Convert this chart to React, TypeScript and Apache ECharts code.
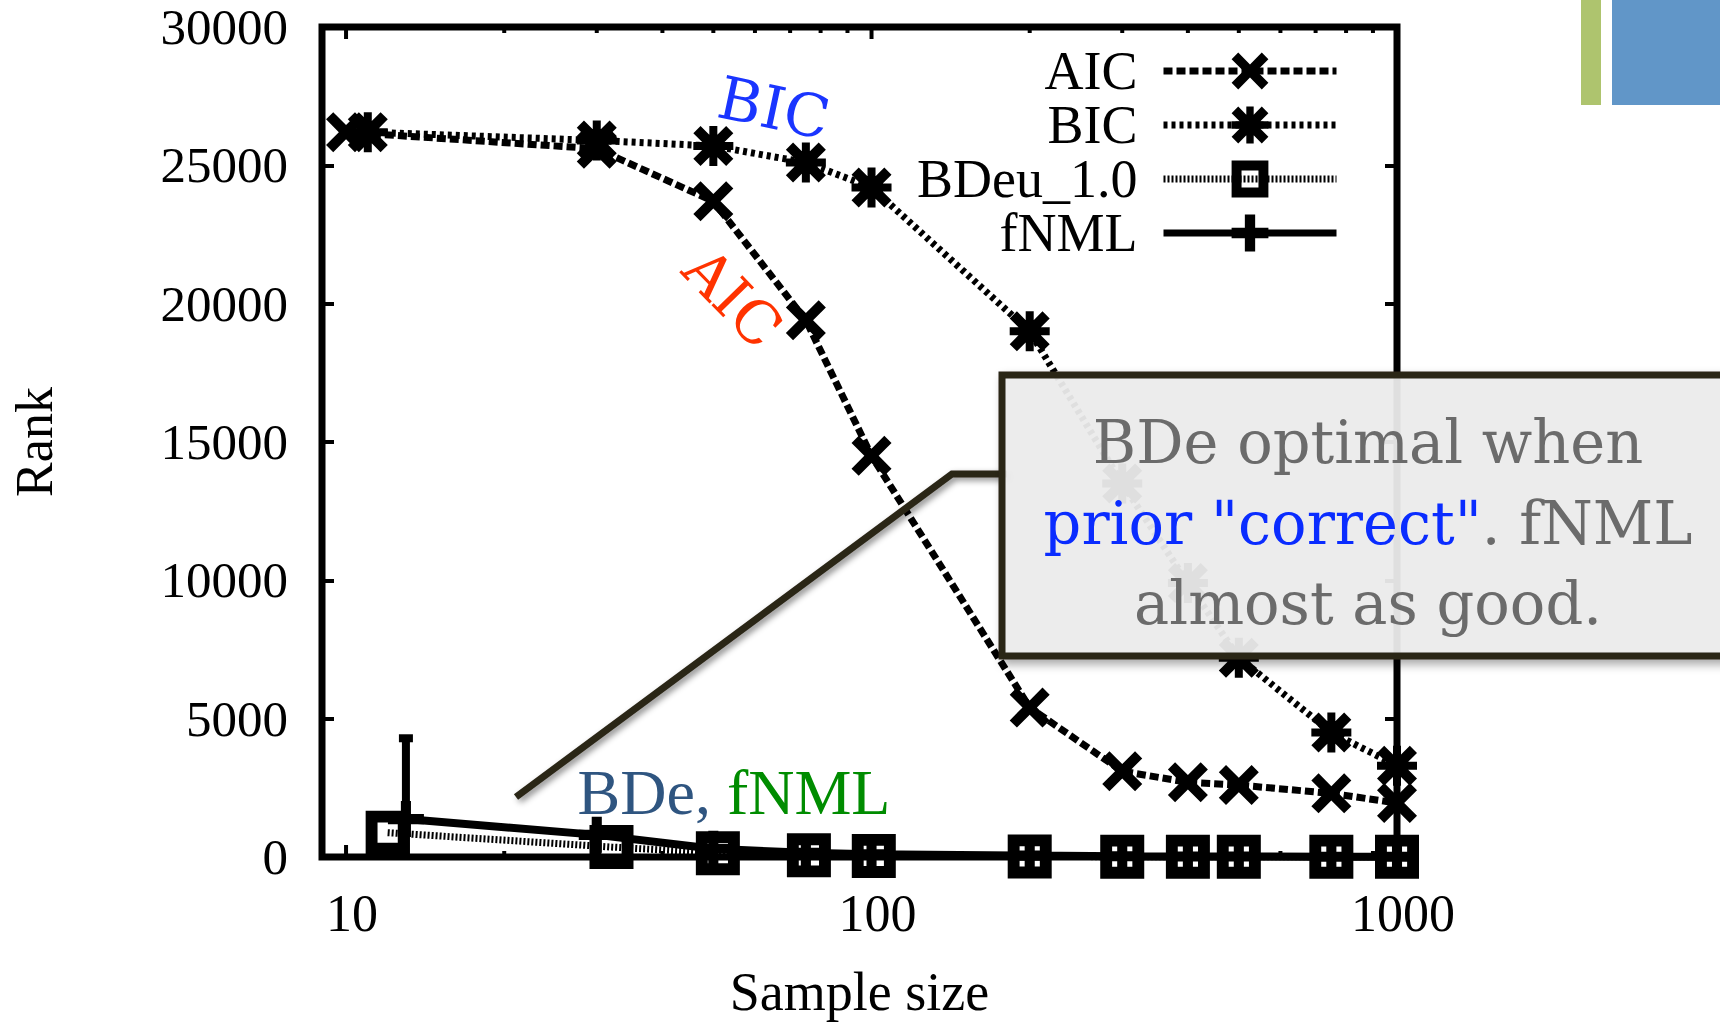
import React, { useEffect, useRef } from "react";
import * as echarts from "echarts";

// ---- data ----
const seriesNames = ["AIC", "BIC", "BDeu_1.0", "fNML"];
const aicSampleSizes = [10, 30, 50, 75, 100, 200, 300, 400, 500, 750, 1000];
const aicRank = [26200, 25600, 23700, 19400, 14500, 5400, 3100, 2700, 2600, 2300, 1950];
const bicSampleSizes = [11, 30, 50, 75, 100, 200, 300, 400, 500, 750, 1000];
const bicRank = [26200, 25900, 25700, 25100, 24200, 19000, 13500, 9900, 7200, 4500, 3300];
const bdeuSampleSizes = [12, 32, 51, 76, 101, 200, 300, 400, 500, 750, 1000];
const bdeuRank = [880, 360, 140, 60, 40, 20, 10, 10, 10, 10, 10];
const fnmlSampleSizes = [13, 30, 50, 75, 100, 200, 300, 400, 500, 750, 1000];
const fnmlRank = [1370, 800, 300, 150, 100, 50, 30, 20, 20, 10, 10];
const fnmlErrSampleSizes = [13];
const fnmlErrLow = [0];
const fnmlErrHigh = [4400];

const xLabelValues = [10, 100, 1000];
const xMinorTicks = [20, 30, 40, 50, 60, 70, 80, 90, 200, 300, 400, 500, 600, 700, 800, 900];
const yTickInterval = 5000;
const yMax = 30000;
const xMin = 9;
const xMax = 1000;

// ---- symbols ----
const X_POLY = "M0 18 L18 0 L50 32 L82 0 L100 18 L68 50 L100 82 L82 100 L50 68 L18 100 L0 82 L32 50 Z";
const X_PATH = "path://" + X_POLY;
const STAR_PATH =
  "path://" + X_POLY + " M40 0 L60 0 L60 100 L40 100 Z M0 40 L100 40 L100 60 L0 60 Z";
const SQUARE_PATH =
  "path://M0 0 L100 0 L100 100 L0 100 Z M27 27 L27 73 L73 73 L73 27 Z";
const PLUS_PATH = "path://M36 0 L64 0 L64 100 L36 100 Z M0 36 L100 36 L100 64 L0 64 Z";

const SERIF = "'Liberation Serif', 'Times New Roman', serif";
const SLAB = "'DejaVu Serif', serif";

const zip = (xs: number[], ys: number[]) => xs.map((x, i) => [x, ys[i]]);

export default function App() {
  const ref = useRef<HTMLDivElement>(null);

  useEffect(() => {
    if (!ref.current) return;
    const chart = echarts.init(ref.current, undefined, { renderer: "svg" });

    const tickData = [
      ...xLabelValues.map((v) => [v, 1]),
      ...xMinorTicks.map((v) => [v, 0]),
    ];

    const option: any = {
      animation: false,
      backgroundColor: "#ffffff",
      grid: {
        left: 321,
        right: 323,
        top: 27,
        bottom: 167,
        show: true,
        borderColor: "#000",
        borderWidth: 7,
        backgroundColor: "transparent",
      },
      xAxis: [
        {
          type: "log",
          logBase: 10,
          min: xMin,
          max: xMax,
          axisLine: { show: false },
          axisTick: { show: false },
          minorTick: { show: false },
          splitLine: { show: false },
          axisLabel: {
            fontFamily: SERIF,
            fontSize: 52,
            color: "#000",
            margin: 30,
            padding: [0, 0, 0, 12],
            formatter: (v: number) =>
              xLabelValues.includes(Math.round(v)) ? String(Math.round(v)) : "",
          },
          name: "Sample size",
          nameLocation: "middle",
          nameGap: 108,
          nameTextStyle: { fontFamily: SERIF, fontSize: 54, color: "#000" },
        },
      ],
      yAxis: [
        {
          type: "value",
          min: 0,
          max: yMax,
          interval: yTickInterval,
          axisLine: { show: false },
          axisTick: { show: true, inside: true, length: 12, lineStyle: { color: "#000", width: 4 } },
          splitLine: { show: false },
          axisLabel: {
            fontFamily: SERIF,
            fontSize: 51,
            color: "#000",
            margin: 34,
            formatter: (v: number) => String(v),
          },
          name: "Rank",
          nameLocation: "middle",
          nameGap: 262,
          nameRotate: 90,
          nameTextStyle: { fontFamily: SERIF, fontSize: 52, color: "#000" },
        },
        {
          type: "value",
          position: "right",
          min: 0,
          max: yMax,
          interval: yTickInterval,
          axisLine: { show: false },
          axisTick: { show: true, inside: true, length: 12, lineStyle: { color: "#000", width: 4 } },
          splitLine: { show: false },
          axisLabel: { show: false },
        },
      ],
      legend: {
        orient: "vertical",
        right: 380,
        top: 44,
        align: "right",
        itemWidth: 173,
        itemHeight: 46,
        itemGap: 0,
        padding: 0,
        selectedMode: false,
        data: seriesNames,
        lineStyle: { width: 7 },
        textStyle: {
          fontFamily: SERIF,
          fontSize: 54,
          lineHeight: 54,
          color: "#000",
          padding: [0, 21, 0, 0],
        },
      },
      series: [
        {
          type: "custom",
          name: "ticks",
          silent: true,
          xAxisIndex: 0,
          yAxisIndex: 0,
          data: tickData,
          encode: { x: 0, y: 1 },
          z: 1,
          renderItem: (params: any, api: any) => {
            const v = api.value(0);
            const major = api.value(1) === 1;
            const len = major ? 12 : 6;
            const b = api.coord([v, 0]);
            const t = api.coord([v, yMax]);
            const style = { stroke: "#000", lineWidth: 4 };
            return {
              type: "group",
              children: [
                { type: "line", shape: { x1: b[0], y1: b[1], x2: b[0], y2: b[1] - len }, style },
                { type: "line", shape: { x1: t[0], y1: t[1], x2: t[0], y2: t[1] + len }, style },
              ],
            };
          },
        },
        {
          name: "AIC",
          type: "line",
          data: zip(aicSampleSizes, aicRank),
          symbol: X_PATH,
          symbolSize: 40,
          lineStyle: { color: "#000", width: 7, type: [9, 4] },
          itemStyle: { color: "#000" },
          z: 3,
        },
        {
          name: "BIC",
          type: "line",
          data: zip(bicSampleSizes, bicRank),
          symbol: STAR_PATH,
          symbolSize: 40,
          lineStyle: { color: "#000", width: 7, type: [4, 4] },
          itemStyle: { color: "#000" },
          z: 3,
        },
        {
          name: "BDeu_1.0",
          type: "line",
          data: zip(bdeuSampleSizes, bdeuRank),
          symbol: SQUARE_PATH,
          symbolSize: 44,
          lineStyle: { color: "#000", width: 7, type: [2, 2] },
          itemStyle: { color: "#000" },
          z: 3,
        },
        {
          name: "fNML",
          type: "line",
          data: zip(fnmlSampleSizes, fnmlRank),
          symbol: PLUS_PATH,
          symbolSize: 36,
          lineStyle: { color: "#000", width: 8, type: "solid" },
          itemStyle: { color: "#000" },
          z: 3,
        },
        {
          type: "custom",
          name: "fNML error",
          silent: true,
          data: fnmlErrSampleSizes.map((x, i) => [x, fnmlErrLow[i], fnmlErrHigh[i]]),
          encode: { x: 0, y: [1, 2] },
          z: 4,
          renderItem: (params: any, api: any) => {
            const x = api.value(0);
            const lo = api.coord([x, api.value(1)]);
            const hi = api.coord([x, api.value(2)]);
            const style = { stroke: "#000", lineWidth: 8 };
            return {
              type: "group",
              children: [
                { type: "line", shape: { x1: lo[0], y1: lo[1], x2: hi[0], y2: hi[1] }, style },
                { type: "line", shape: { x1: hi[0] - 7, y1: hi[1] + 3, x2: hi[0] + 7, y2: hi[1] + 3 }, style: { stroke: "#000", lineWidth: 8 } },
              ],
            };
          },
        },
      ],
      graphic: [
        { type: "rect", z: 100, shape: { x: 1581, y: 0, width: 20, height: 105 }, style: { fill: "#aec46e" } },
        { type: "rect", z: 100, shape: { x: 1612, y: 0, width: 108, height: 105 }, style: { fill: "#6196c8" } },
        {
          type: "text",
          z: 100,
          x: 774,
          y: 108,
          rotation: -0.21,
          style: {
            text: "BIC",
            fill: "#1a35ff",
            fontFamily: SLAB,
            fontSize: 59,
            align: "center",
            verticalAlign: "middle",
          },
        },
        {
          type: "text",
          z: 100,
          x: 733,
          y: 298,
          rotation: -0.8,
          style: {
            text: "AIC",
            fill: "#ff3300",
            fontFamily: SLAB,
            fontSize: 59,
            align: "center",
            verticalAlign: "middle",
          },
        },
        {
          type: "text",
          z: 100,
          x: 734,
          y: 792,
          style: {
            text: "{a|BDe,} {b|fNML}",
            align: "center",
            verticalAlign: "middle",
            fontFamily: SERIF,
            fontSize: 64,
            rich: {
              a: { fill: "#2f5580", fontFamily: SERIF, fontSize: 64 },
              b: { fill: "#008c00", fontFamily: SERIF, fontSize: 64 },
            },
          },
        },
        {
          type: "polyline",
          z: 100,
          shape: { points: [[516, 797], [952, 474], [1007, 474]] },
          style: {
            stroke: "#2b2619",
            lineWidth: 7,
            fill: null,
            shadowBlur: 6,
            shadowColor: "rgba(0,0,0,0.45)",
            shadowOffsetX: 3,
            shadowOffsetY: 3,
          },
        },
        {
          type: "rect",
          z: 101,
          shape: { x: 1002, y: 375, width: 760, height: 281 },
          style: {
            fill: "rgba(238,238,238,0.925)",
            stroke: "#2a2619",
            lineWidth: 7,
            shadowBlur: 10,
            shadowColor: "rgba(0,0,0,0.35)",
            shadowOffsetX: 4,
            shadowOffsetY: 5,
          },
        },
        {
          type: "text",
          z: 102,
          x: 1368,
          y: 442,
          style: {
            text: "BDe optimal when",
            fill: "#6b6b6b",
            fontFamily: SLAB,
            fontSize: 59,
            align: "center",
            verticalAlign: "middle",
          },
        },
        {
          type: "text",
          z: 102,
          x: 1368,
          y: 523,
          style: {
            text: '{b|prior "correct"}{g|. fNML}',
            align: "center",
            verticalAlign: "middle",
            fontFamily: SLAB,
            fontSize: 59,
            rich: {
              b: { fill: "#0a2cff", fontFamily: SLAB, fontSize: 59 },
              g: { fill: "#6b6b6b", fontFamily: SLAB, fontSize: 59 },
            },
          },
        },
        {
          type: "text",
          z: 102,
          x: 1368,
          y: 603,
          style: {
            text: "almost as good.",
            fill: "#6b6b6b",
            fontFamily: SLAB,
            fontSize: 59,
            align: "center",
            verticalAlign: "middle",
          },
        },
      ],
    };

    chart.setOption(option);
    return () => chart.dispose();
  }, []);

  return (
    <div
      ref={ref}
      style={{ position: "absolute", left: 0, top: 0, width: 1720, height: 1024, background: "#fff" }}
    />
  );
}
